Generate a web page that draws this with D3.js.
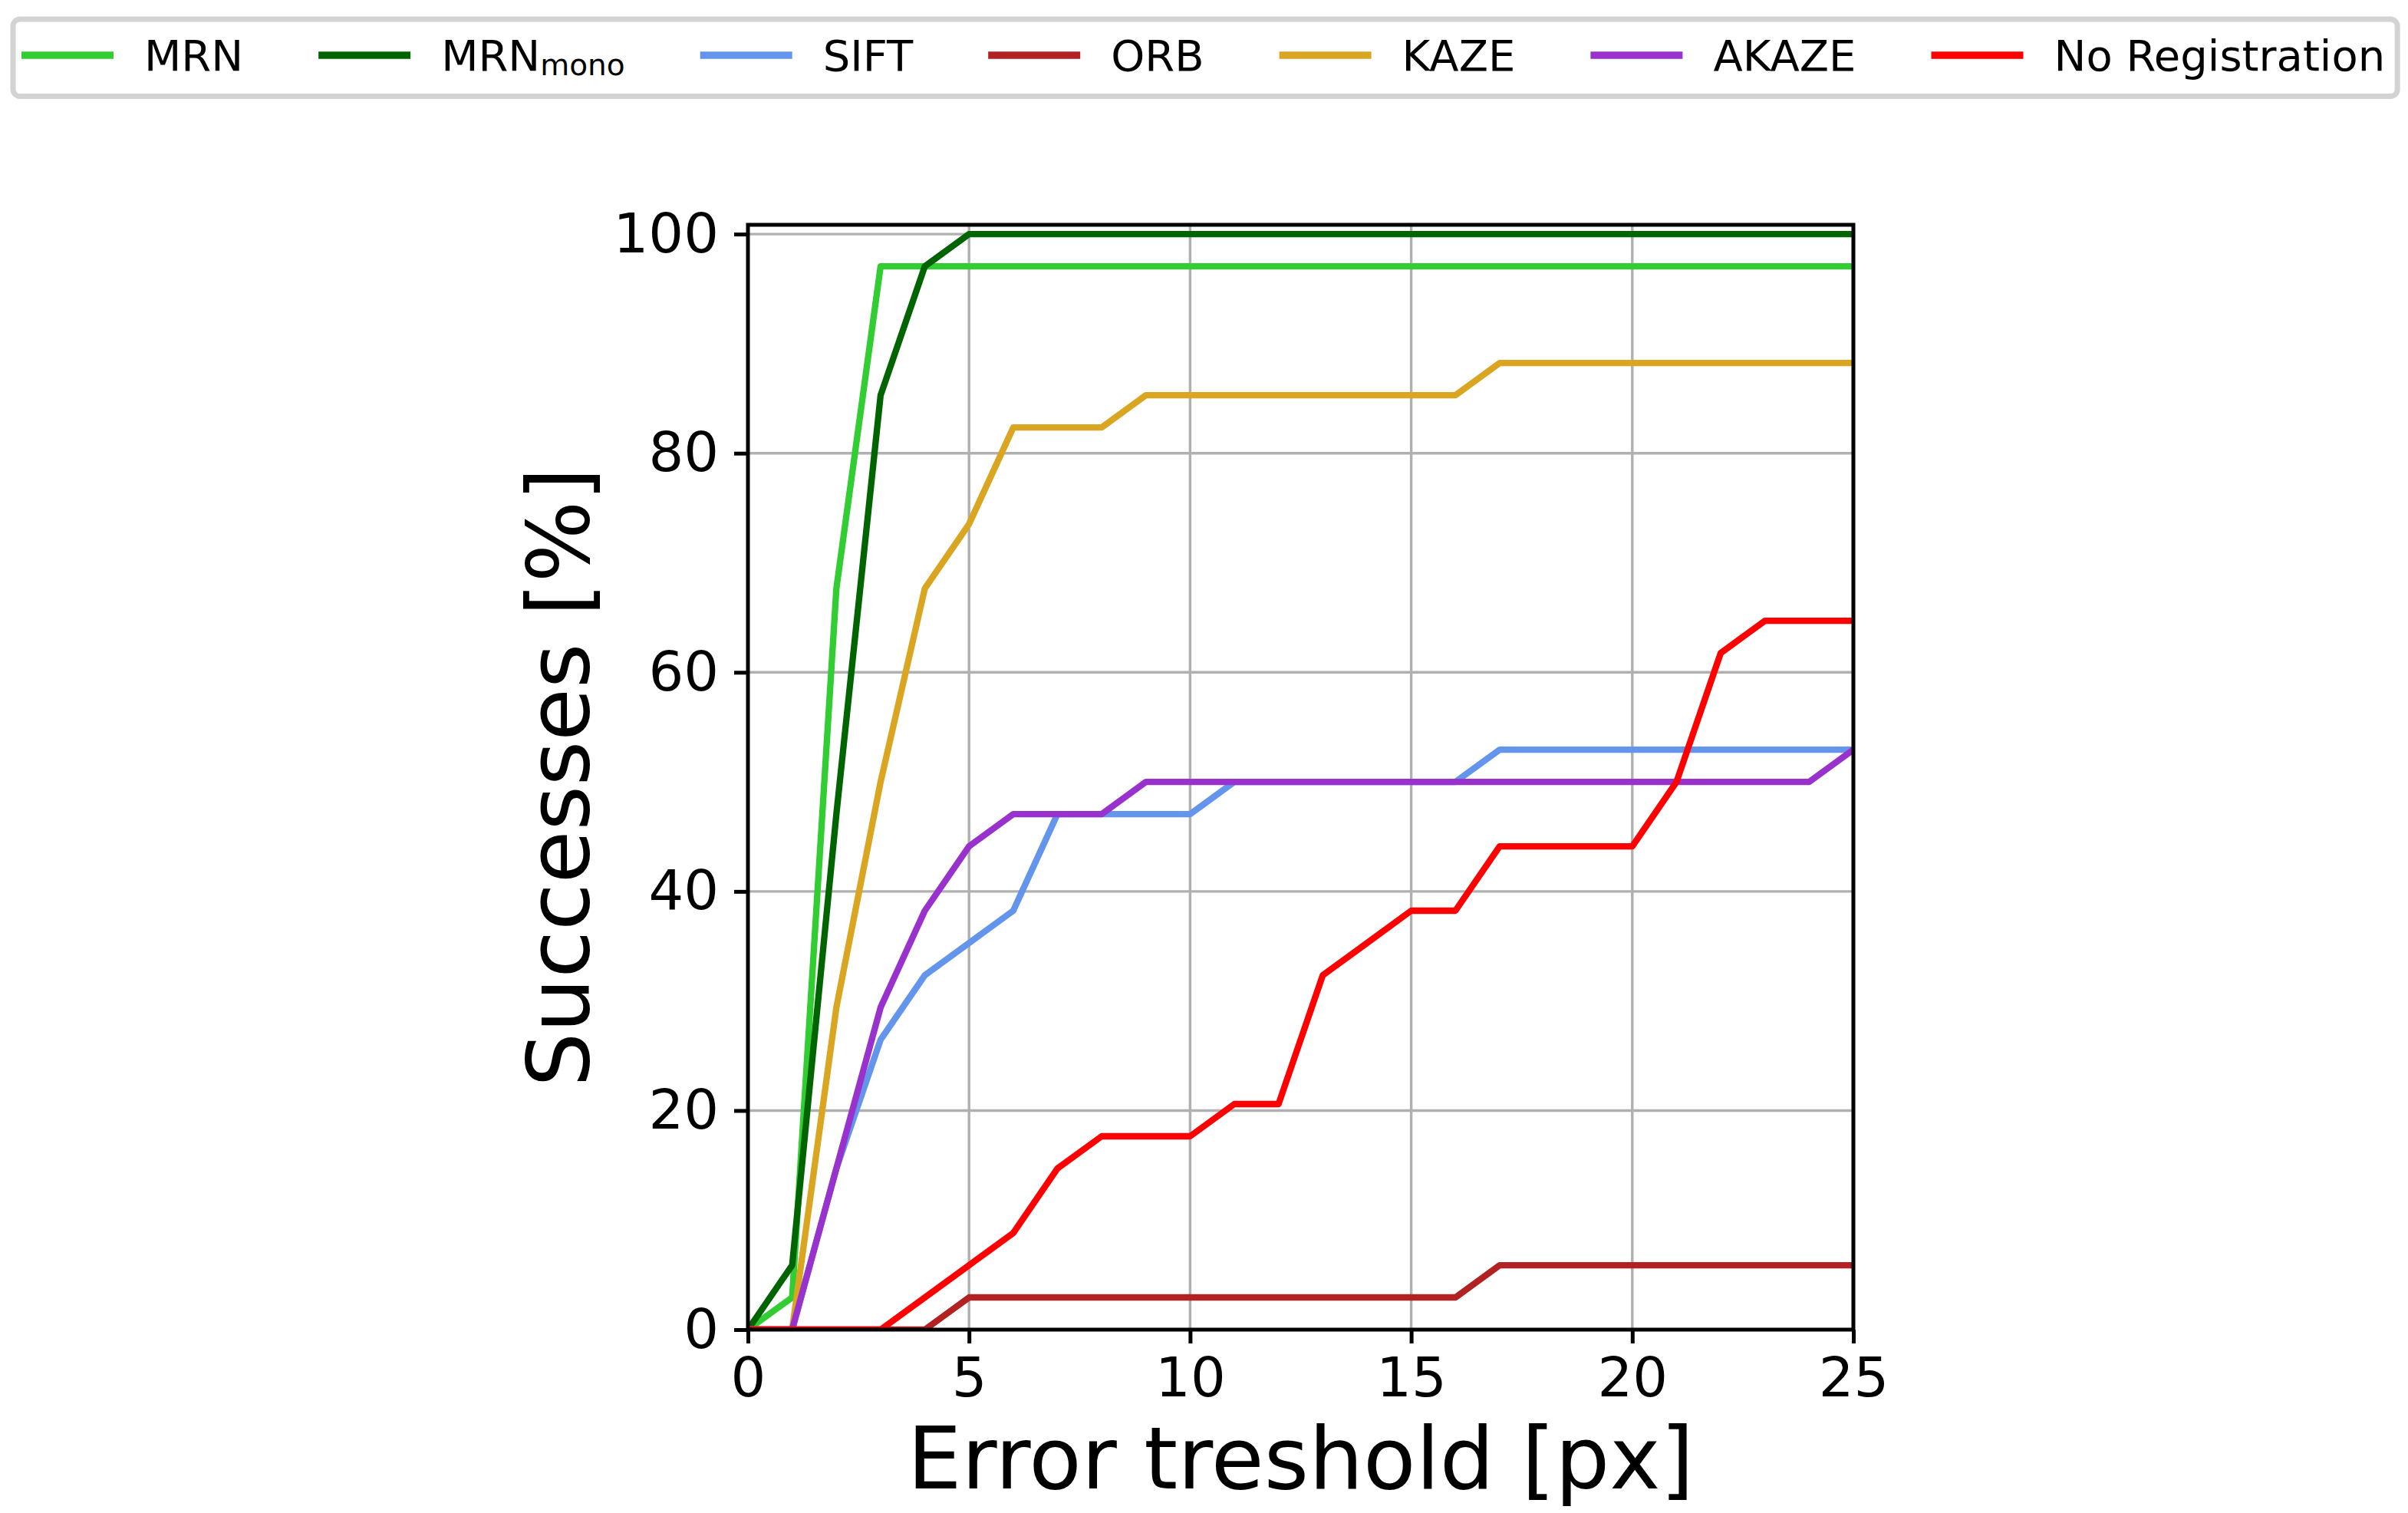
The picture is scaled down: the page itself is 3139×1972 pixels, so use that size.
<!DOCTYPE html>
<html>
<head>
<meta charset="utf-8">
<script src="https://cdn.jsdelivr.net/npm/d3@7"></script>
<style>
  body { margin: 0; background: #ffffff; }
  text { font-family: "DejaVu Sans", sans-serif; fill: #000000; }
</style>
</head>
<body>
<div id="chart"></div>
<script>
// data (success rate in % per error threshold in px)
var thresholds = [0, 1, 2, 3, 4, 5, 6, 7, 8, 9, 10, 11, 12, 13, 14, 15, 16, 17, 18, 19, 20, 21, 22, 23, 24, 25];

var mrnValues = [0, 2.94, 67.65, 97.06, 97.06, 97.06, 97.06, 97.06, 97.06, 97.06, 97.06, 97.06, 97.06,
  97.06, 97.06, 97.06, 97.06, 97.06, 97.06, 97.06, 97.06, 97.06, 97.06, 97.06, 97.06, 97.06];
var mrnMonoValues = [0, 5.88, 47.06, 85.29, 97.06, 100, 100, 100, 100, 100, 100, 100, 100,
  100, 100, 100, 100, 100, 100, 100, 100, 100, 100, 100, 100, 100];
var siftValues = [0, 0, 14.71, 26.47, 32.35, 35.29, 38.24, 47.06, 47.06, 47.06, 47.06, 50, 50,
  50, 50, 50, 50, 52.94, 52.94, 52.94, 52.94, 52.94, 52.94, 52.94, 52.94, 52.94];
var orbValues = [0, 0, 0, 0, 0, 2.94, 2.94, 2.94, 2.94, 2.94, 2.94, 2.94, 2.94,
  2.94, 2.94, 2.94, 2.94, 5.88, 5.88, 5.88, 5.88, 5.88, 5.88, 5.88, 5.88, 5.88];
var kazeValues = [0, 0, 29.41, 50, 67.65, 73.53, 82.35, 82.35, 82.35, 85.29, 85.29, 85.29, 85.29,
  85.29, 85.29, 85.29, 85.29, 88.24, 88.24, 88.24, 88.24, 88.24, 88.24, 88.24, 88.24, 88.24];
var akazeValues = [0, 0, 14.71, 29.41, 38.24, 44.12, 47.06, 47.06, 47.06, 50, 50, 50, 50,
  50, 50, 50, 50, 50, 50, 50, 50, 50, 50, 50, 50, 52.94];
var noRegValues = [0, 0, 0, 0, 2.94, 5.88, 8.82, 14.71, 17.65, 17.65, 17.65, 20.59, 20.59,
  32.35, 35.29, 38.24, 38.24, 44.12, 44.12, 44.12, 44.12, 50, 61.76, 64.71, 64.71, 64.71];

var seriesNames = ["MRN", "MRN_mono", "SIFT", "ORB", "KAZE", "AKAZE", "No Registration"];
var seriesColors = ["#32cd32", "#006400", "#6495ed", "#b22222", "#daa520", "#9932cc", "#ff0000"];
var seriesValues = [mrnValues, mrnMonoValues, siftValues, orbValues, kazeValues, akazeValues, noRegValues];

var xTicks = [0, 5, 10, 15, 20, 25];
var yTicks = [0, 20, 40, 60, 80, 100];

var svgWidth = 3139;
var svgHeight = 1972;

var margin = {
  top: 293,
  right: 723,
  bottom: 239,
  left: 975
};

var width = svgWidth - margin.left - margin.right;
var height = svgHeight - margin.top - margin.bottom;

var svg = d3
  .select("#chart")
  .append("svg")
  .attr("width", svgWidth)
  .attr("height", svgHeight);

svg.append("rect")
  .attr("width", svgWidth)
  .attr("height", svgHeight)
  .attr("fill", "#ffffff");

var chartGroup = svg.append("g")
  .attr("transform", `translate(${margin.left}, ${margin.top})`);

// scales (y limit a bit above 100 like the original axes)
var xLinearScale = d3.scaleLinear()
  .domain([0, 25])
  .range([0, width]);

var yLinearScale = d3.scaleLinear()
  .domain([0, 100.85])
  .range([height, 0]);

// grid lines
var gridGroup = chartGroup.append("g");
gridGroup.selectAll(".vgrid")
  .data(xTicks)
  .enter()
  .append("line")
  .attr("x1", d => xLinearScale(d))
  .attr("x2", d => xLinearScale(d))
  .attr("y1", 0)
  .attr("y2", height)
  .attr("stroke", "#b0b0b0")
  .attr("stroke-width", 3.4);

gridGroup.selectAll(".hgrid")
  .data(yTicks)
  .enter()
  .append("line")
  .attr("x1", 0)
  .attr("x2", width)
  .attr("y1", d => yLinearScale(d))
  .attr("y2", d => yLinearScale(d))
  .attr("stroke", "#b0b0b0")
  .attr("stroke-width", 3.4);

// clip lines to the axes area
svg.append("defs")
  .append("clipPath")
  .attr("id", "plot-clip")
  .append("rect")
  .attr("width", width)
  .attr("height", height);

var lineGen = d3.line()
  .x((d, i) => xLinearScale(thresholds[i]))
  .y(d => yLinearScale(d));

var linesGroup = chartGroup.append("g")
  .attr("clip-path", "url(#plot-clip)");

linesGroup.selectAll("path")
  .data(seriesValues)
  .enter()
  .append("path")
  .attr("d", d => lineGen(d))
  .attr("fill", "none")
  .attr("stroke", (d, i) => seriesColors[i])
  .attr("stroke-width", 8.3)
  .attr("stroke-linejoin", "round");

// axes
var bottomAxis = d3.axisBottom(xLinearScale)
  .tickValues(xTicks)
  .tickSize(18)
  .tickPadding(18);

var leftAxis = d3.axisLeft(yLinearScale)
  .tickValues(yTicks)
  .tickSize(18)
  .tickPadding(20);

var xAxis = chartGroup.append("g")
  .attr("transform", `translate(0, ${height})`)
  .call(bottomAxis);

var yAxis = chartGroup.append("g")
  .call(leftAxis);

[xAxis, yAxis].forEach(function(ax) {
  ax.select(".domain").remove();
  ax.selectAll(".tick line")
    .attr("stroke", "#000000")
    .attr("stroke-width", 5);
  ax.selectAll(".tick text")
    .attr("fill", "#000000")
    .style("font-family", "DejaVu Sans")
    .style("font-size", "72px");
});

// frame on top of the lines
chartGroup.append("rect")
  .attr("width", width)
  .attr("height", height)
  .attr("fill", "none")
  .attr("stroke", "#000000")
  .attr("stroke-width", 5);

// axis labels
svg.append("text")
  .attr("x", margin.left + width / 2)
  .attr("y", 1940)
  .attr("text-anchor", "middle")
  .style("font-size", "112px")
  .text("Error treshold [px]");

svg.append("text")
  .attr("transform", `translate(767, ${margin.top + height / 2}) rotate(-90)`)
  .attr("text-anchor", "middle")
  .style("font-size", "112px")
  .text("Successes [%]");

// legend across the top
var legendGroup = svg.append("g");
var legendFrame = legendGroup.append("rect")
  .attr("x", 17)
  .attr("y", 25)
  .attr("height", 100.5)
  .attr("rx", 9)
  .attr("fill", "#ffffff")
  .attr("stroke", "#d3d3d3")
  .attr("stroke-width", 7);

var handleLen = 120;
var handlePad = 40;
var colSpacing = 98;
var cursorX = 28;

seriesNames.forEach(function(name, i) {
  legendGroup.append("line")
    .attr("x1", cursorX)
    .attr("x2", cursorX + handleLen)
    .attr("y1", 72)
    .attr("y2", 72)
    .attr("stroke", seriesColors[i])
    .attr("stroke-width", 9.5);

  var label = legendGroup.append("text")
    .attr("x", cursorX + handleLen + handlePad)
    .attr("y", 91.5)
    .style("font-size", "56px");

  if (name === "MRN_mono") {
    label.append("tspan").text("MRN");
    label.append("tspan")
      .attr("dy", 6)
      .style("font-size", "39px")
      .text("mono");
  } else {
    label.text(name);
  }

  var textLen = label.node().getComputedTextLength();
  cursorX = cursorX + handleLen + handlePad + textLen + colSpacing;
});

legendFrame.attr("width", cursorX - colSpacing + 16 - 17);
</script>
</body>
</html>
